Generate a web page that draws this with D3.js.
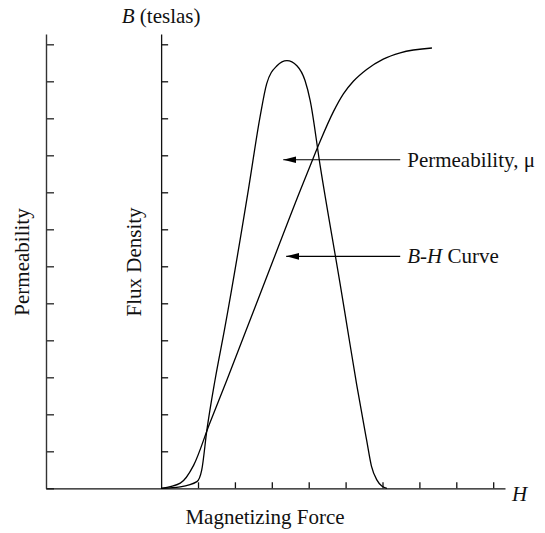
<!DOCTYPE html>
<html>
<head>
<meta charset="utf-8">
<script src="https://cdn.jsdelivr.net/npm/d3@7"></script>
<style>
	body { margin: 0; background: #fff; }
	text { font-family: "Liberation Serif", "Times New Roman", serif; fill: #111; }
</style>
</head>
<body>
<div id="container"></div>
<script>
// B-H curve (flux density vs magnetizing force), in tick units
const bhH = [0, 0.52, 0.88, 1.31, 1.78, 2.28, 2.95, 3.77, 4.04, 4.31, 4.67, 4.94, 5.21, 5.57, 6.02, 6.48, 7.34];
const bhB = [0, 0.14, 0.62, 1.74, 2.92, 4.21, 5.94, 8.05, 8.72, 9.38, 10.18, 10.66, 11.0, 11.32, 11.6, 11.77, 11.9];

// permeability curve, in tick units
const muH = [0, 0.52, 0.97, 1.1, 1.24, 1.46, 1.72, 2.37, 2.68, 2.86, 3.14, 3.41, 3.68, 3.9, 4.04, 4.31, 4.85, 5.03, 5.3, 5.57, 5.7, 5.85, 5.98, 6.12];
const muV = [0, 0.04, 0.18, 0.49, 1.57, 2.92, 4.3, 8.1, 10.03, 10.93, 11.42, 11.56, 11.42, 11.02, 10.48, 8.72, 5.53, 4.44, 2.8, 1.3, 0.6, 0.22, 0.06, 0];

// callouts: label, arrow tip (H, value), arrow tail H
const calloutLabels = ["Permeability, μ", "B-H Curve"];
const calloutTipH = [3.31, 3.39];
const calloutTipV = [8.88, 6.27];
const calloutTailH = 6.48;

const xTicks = [1, 2, 3, 4, 5, 6, 7, 8, 9];
const yTicks = [0, 1, 2, 3, 4, 5, 6, 7, 8, 9, 10, 11, 12];

window.addEventListener("load", () => drawChart());

function drawChart() {
	const width = 545;
	const height = 533;
	const fontSize = 21;

	const svg = d3
		.select("#container")
		.append("svg")
		.attr("width", width)
		.attr("height", height);

	const x = d3.scaleLinear().domain([-3.12, 9.32]).range([46, 505]);
	const y = d3.scaleLinear().domain([0, 12]).range([488.3, 44.3]);
	const yAxisScale = y.copy().domain([0, y.invert(34)]).range([488.3, 34]);

	// left (permeability) axis
	const leftAxis = d3
		.axisRight(yAxisScale)
		.tickValues(yTicks)
		.tickFormat("")
		.tickSize(8)
		.tickSizeOuter(0);
	svg.append("g")
		.attr("transform", `translate(${x(-3.12)}, 0)`)
		.call(leftAxis)
		.call((g) => g.selectAll("path, line").attr("stroke", "#333").attr("stroke-width", 1.4));

	// B axis
	const bAxis = d3
		.axisRight(yAxisScale)
		.tickValues(yTicks.slice(1))
		.tickFormat("")
		.tickSize(7)
		.tickSizeOuter(0);
	svg.append("g")
		.attr("transform", `translate(${x(0)}, 0)`)
		.call(bAxis)
		.call((g) => g.selectAll("path, line").attr("stroke", "#111").attr("stroke-width", 1.3));

	// H axis
	const hAxis = d3
		.axisTop(x)
		.tickValues(xTicks)
		.tickFormat("")
		.tickSize(6)
		.tickSizeOuter(0);
	svg.append("g")
		.attr("transform", `translate(0, ${y(0)})`)
		.call(hAxis)
		.call((g) => g.selectAll("path, line").attr("stroke", "#111").attr("stroke-width", 1.3));

	// curves
	const line = d3
		.line()
		.x((d) => x(d[0]))
		.y((d) => y(d[1]))
		.curve(d3.curveMonotoneX);

	svg.append("path")
		.attr("d", line(bhH.map((h, i) => [h, bhB[i]])))
		.attr("fill", "none")
		.attr("stroke", "#000")
		.attr("stroke-width", 1.3);

	svg.append("path")
		.attr("d", line(muH.map((h, i) => [h, muV[i]])))
		.attr("fill", "none")
		.attr("stroke", "#000")
		.attr("stroke-width", 1.3);

	// callout arrows
	svg.append("defs")
		.append("marker")
		.attr("id", "head")
		.attr("viewBox", "0 0 13 8")
		.attr("refX", 0)
		.attr("refY", 4)
		.attr("markerWidth", 13)
		.attr("markerHeight", 8)
		.attr("markerUnits", "userSpaceOnUse")
		.attr("orient", "auto")
		.append("path")
		.attr("d", "M0,4L13,0.6L13,7.4Z")
		.attr("fill", "#000");

	calloutLabels.forEach((label, i) => {
		const ty = y(calloutTipV[i]);
		svg.append("line")
			.attr("x1", x(calloutTipH[i]))
			.attr("x2", x(calloutTailH))
			.attr("y1", ty)
			.attr("y2", ty)
			.attr("stroke", "#000")
			.attr("stroke-width", 1.2)
			.attr("marker-start", "url(#head)");

		const t = svg.append("text")
			.attr("x", x(calloutTailH) + 7)
			.attr("y", ty + 7)
			.attr("font-size", fontSize);
		if (label.startsWith("B-H")) {
			t.append("tspan").attr("font-style", "italic").text("B-H");
			t.append("tspan").text(" Curve");
		} else {
			t.text(label);
		}
	});

	// titles
	const bTitle = svg.append("text")
		.attr("x", x(0))
		.attr("y", 23)
		.attr("text-anchor", "middle")
		.attr("font-size", fontSize);
	bTitle.append("tspan").attr("font-style", "italic").text("B");
	bTitle.append("tspan").text(" (teslas)");

	svg.append("text")
		.attr("transform", `translate(29, 262) rotate(-90)`)
		.attr("text-anchor", "middle")
		.attr("font-size", fontSize)
		.text("Permeability");

	svg.append("text")
		.attr("transform", `translate(141, 262) rotate(-90)`)
		.attr("text-anchor", "middle")
		.attr("font-size", fontSize)
		.text("Flux Density");

	svg.append("text")
		.attr("x", 265)
		.attr("y", 524)
		.attr("text-anchor", "middle")
		.attr("font-size", fontSize)
		.text("Magnetizing Force");

	svg.append("text")
		.attr("x", 512)
		.attr("y", 501)
		.attr("font-size", fontSize)
		.attr("font-style", "italic")
		.text("H");
}
</script>
</body>
</html>
